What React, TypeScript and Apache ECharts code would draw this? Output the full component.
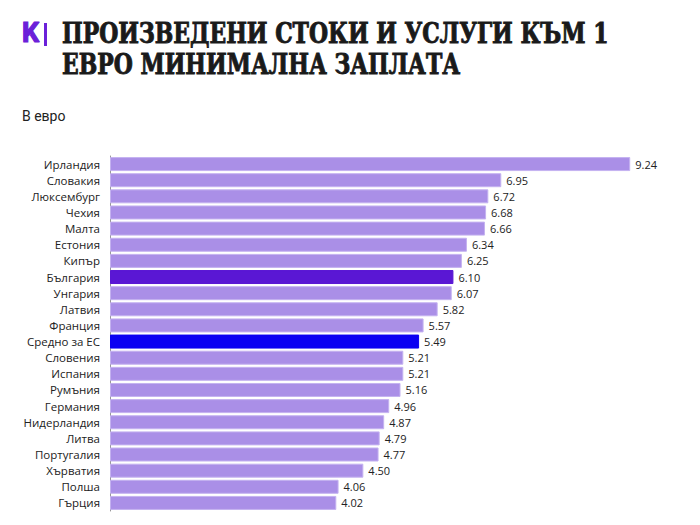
import React, { useEffect, useRef } from "react";
import * as echarts from "echarts";

const categories = [
  "Ирландия", "Словакия", "Люксембург", "Чехия", "Малта", "Естония", "Кипър",
  "България", "Унгария", "Латвия", "Франция", "Средно за ЕС", "Словения",
  "Испания", "Румъния", "Германия", "Нидерландия", "Литва", "Португалия",
  "Хърватия", "Полша", "Гърция",
];
const values = [
  9.24, 6.95, 6.72, 6.68, 6.66, 6.34, 6.25, 6.1, 6.07, 5.82, 5.57, 5.49, 5.21,
  5.21, 5.16, 4.96, 4.87, 4.79, 4.77, 4.5, 4.06, 4.02,
];
const highlight: Record<string, string> = {
  "България": "#5a17d4",
  "Средно за ЕС": "#0b00f2",
};
const titleLines = ["ПРОИЗВЕДЕНИ СТОКИ И УСЛУГИ КЪМ 1", "ЕВРО МИНИМАЛНА ЗАПЛАТА"];
const subtitle = "В евро";

export default function App() {
  const ref = useRef<HTMLDivElement>(null);
  useEffect(() => {
    document.body.style.margin = "0";
    if (!ref.current) return;
    const chart = echarts.init(ref.current, undefined, { renderer: "svg" });
    chart.setOption({
      animation: false,
      backgroundColor: "#ffffff",
      graphic: [
        {
          type: "text",
          x: 22,
          y: 19,
          style: {
            text: "K",
            fontFamily: "Roboto",
            fontWeight: "bold",
            fontSize: 27,
            fill: "#6b20d9",
            stroke: "#6b20d9",
            lineWidth: 1.2,
          },
        },
        {
          type: "rect",
          shape: { x: 44, y: 23, width: 3, height: 23 },
          style: { fill: "#6b20d9" },
        },
        {
          type: "text",
          x: 62,
          y: 17,
          scaleX: 0.87,
          style: {
            text: titleLines.join("\n"),
            fontFamily: "DejaVu Serif Condensed",
            fontWeight: "bold",
            fontSize: 28,
            lineHeight: 31,
            fill: "#1a1a1a",
            stroke: "#1a1a1a",
            lineWidth: 0.9,
          },
        },
        {
          type: "text",
          x: 22,
          y: 109,
          style: {
            text: subtitle,
            fontFamily: "Roboto",
            fontSize: 14,
            fill: "#222222",
          },
        },
      ],
      grid: { left: 110, right: 27, top: 156, bottom: 14, containLabel: false },
      xAxis: {
        type: "value",
        min: 0,
        max: 10,
        show: false,
      },
      yAxis: {
        type: "category",
        inverse: true,
        data: categories,
        axisLine: { show: true, lineStyle: { color: "#999999", width: 1 } },
        axisTick: { show: false },
        axisLabel: {
          margin: 10,
          fontFamily: "Open Sans",
          fontSize: 11.5,
          color: "#222222",
        },
        splitLine: { show: false },
      },
      series: [
        {
          type: "bar",
          barWidth: 14,
          data: values.map((v, i) => ({
            value: v,
            itemStyle: {
              color: highlight[categories[i]] || "#aa8fe7",
              borderColor: highlight[categories[i]] ? highlight[categories[i]] : "#c4b2f0",
              borderWidth: 1,
            },
          })),
          label: {
            show: true,
            position: "right",
            distance: 5,
            fontFamily: "Open Sans",
            fontSize: 11,
            color: "#222222",
            formatter: (p: any) => Number(p.value).toFixed(2),
          },
        },
      ],
    });
    return () => chart.dispose();
  }, []);
  return <div ref={ref} style={{ width: 700, height: 525 }} />;
}
